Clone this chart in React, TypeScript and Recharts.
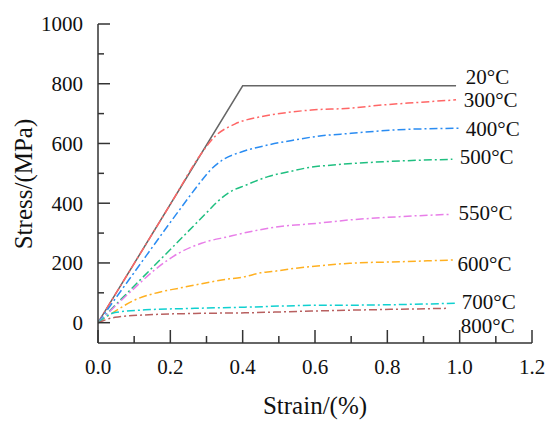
import React from 'react';
import { LineChart, Line, XAxis, YAxis, ReferenceDot, Label } from 'recharts';

// strain (%) / stress (MPa)
const strain20 = [0, 0.4, 0.99];
const stress20 = [0, 793, 793];

const strain300 = [0, 0.1, 0.2, 0.285, 0.323, 0.378, 0.452, 0.525, 0.59, 0.696, 0.788, 0.88, 0.99];
const stress300 = [0, 198, 396, 565, 623, 665, 690, 704, 712, 718, 729, 737, 746];

const strain400 = [0, 0.1, 0.2, 0.25, 0.28, 0.31, 0.342, 0.4, 0.47, 0.55, 0.6, 0.7, 0.83, 1.0];
const stress400 = [0, 168, 336, 418, 466, 510, 543, 573, 595, 613, 623, 634, 646, 651];

const strain500 = [0, 0.1, 0.2, 0.3, 0.33, 0.36, 0.41, 0.47, 0.53, 0.59, 0.65, 0.79, 0.98];
const stress500 = [0, 123, 245, 368, 405, 434, 461, 489, 506, 521, 528, 539, 547];

const strain550 = [0, 0.05, 0.1, 0.157, 0.222, 0.286, 0.36, 0.434, 0.517, 0.59, 0.696, 0.834, 0.977];
const stress550 = [0, 58, 115, 177, 232, 266, 288, 308, 324, 331, 344, 355, 363];

const strain600 = [0, 0.038, 0.102, 0.176, 0.222, 0.268, 0.342, 0.406, 0.45, 0.48, 0.544, 0.59, 0.696, 0.834, 0.986];
const stress600 = [0, 31, 76, 104, 115, 126, 143, 154, 167, 171, 182, 188, 199, 204, 210];

const strain700 = [0, 0.047, 0.13, 0.268, 0.406, 0.59, 0.742, 0.99];
const stress700 = [0, 34, 43, 48, 52, 58, 59, 65];

const strain800 = [0, 0.047, 0.13, 0.268, 0.406, 0.59, 0.742, 0.963];
const stress800 = [0, 18, 26, 31, 33, 39, 43, 48];

const tempLabels = ['20°C', '300°C', '400°C', '500°C', '550°C', '600°C', '700°C', '800°C'];
const labelStrain = [1.017, 1.011, 1.017, 1.0, 0.997, 0.994, 1.006, 1.003];
const labelStress = [824, 746, 649, 555, 368, 197, 71, -9];

const xTicks = [0, 0.1, 0.2, 0.3, 0.4, 0.5, 0.6, 0.7, 0.8, 0.9, 1.0, 1.1, 1.2];
const yTicks = [0, 100, 200, 300, 400, 500, 600, 700, 800, 900, 1000];

const FONT = '"Liberation Serif", "Times New Roman", serif';
const AXIS = '#333333';
const DASH = '8 3 2 3';

const toPoints = (xs: number[], ys: number[]) => xs.map((x, i) => ({ x, y: ys[i] }));

const series = [
  { name: '20', data: toPoints(strain20, stress20), color: '#666666', dash: undefined, type: 'linear' },
  { name: '300', data: toPoints(strain300, stress300), color: '#ff6666', dash: DASH, type: 'monotone' },
  { name: '400', data: toPoints(strain400, stress400), color: '#2a8cf2', dash: DASH, type: 'monotone' },
  { name: '500', data: toPoints(strain500, stress500), color: '#1fbf80', dash: DASH, type: 'monotone' },
  { name: '550', data: toPoints(strain550, stress550), color: '#e87ee8', dash: DASH, type: 'monotone' },
  { name: '600', data: toPoints(strain600, stress600), color: '#ffb020', dash: DASH, type: 'monotone' },
  { name: '700', data: toPoints(strain700, stress700), color: '#10d0d0', dash: DASH, type: 'monotone' },
  { name: '800', data: toPoints(strain800, stress800), color: '#b86060', dash: DASH, type: 'monotone' },
];

const XTick = (props: any) => {
  const { x, y, payload } = props;
  const v = payload.value;
  const major = Math.round(v * 10) % 2 === 0;
  return (
    <g>
      <line x1={x} x2={x} y1={y} y2={y - (major ? 13 : 7)} stroke={AXIS} strokeWidth={1.5} />
      {major && (
        <text x={x} y={y + 24} dy="0.35em" textAnchor="middle" fontFamily={FONT} fontSize={21} fill="#111">
          {v.toFixed(1)}
        </text>
      )}
    </g>
  );
};

const YTick = (props: any) => {
  const { x, y, payload } = props;
  const v = payload.value;
  const major = v % 200 === 0;
  return (
    <g>
      <line x1={x} x2={x + (major ? 12 : 6)} y1={y} y2={y} stroke={AXIS} strokeWidth={1.5} />
      {major && (
        <text x={x - 15} y={y} dy="0.35em" textAnchor="end" fontFamily={FONT} fontSize={21} fill="#111">
          {v}
        </text>
      )}
    </g>
  );
};

export default function App() {
  return (
    <div style={{ position: 'absolute', left: 0, top: 0, width: 550, height: 422, background: '#fff' }}>
      <LineChart width={550} height={422} margin={{ top: 24, right: 18, left: 0, bottom: 0 }}>
        <XAxis
          type="number"
          dataKey="x"
          domain={[0, 1.2]}
          ticks={xTicks}
          height={79}
          tickSize={0}
          tickMargin={0}
          tickLine={false}
          tick={<XTick />}
          interval={0}
          axisLine={{ stroke: AXIS, strokeWidth: 1.5 }}
          allowDataOverflow
        >
          <Label
            content={() => (
              <text x={315} y={414} textAnchor="middle" fontFamily={FONT} fontSize={25} fill="#111">
                Strain/(%)
              </text>
            )}
          />
        </XAxis>
        <YAxis
          type="number"
          domain={[-68, 1000]}
          ticks={yTicks}
          width={98}
          tickSize={0}
          tickMargin={0}
          tickLine={false}
          tick={<YTick />}
          interval={0}
          axisLine={{ stroke: AXIS, strokeWidth: 1.5 }}
          allowDataOverflow
        >
          <Label
            content={() => (
              <text
                x={23}
                y={184}
                dy="0.35em"
                transform="rotate(-90 23 184)"
                textAnchor="middle"
                fontFamily={FONT}
                fontSize={25}
                fill="#111"
              >
                Stress/(MPa)
              </text>
            )}
          />
        </YAxis>
        {series.map(s => (
          <Line
            key={s.name}
            data={s.data}
            dataKey="y"
            type={s.type as any}
            stroke={s.color}
            strokeWidth={1.5}
            strokeDasharray={s.dash}
            dot={false}
            activeDot={false}
            isAnimationActive={false}
          />
        ))}
        {tempLabels.map((t, i) => (
          <ReferenceDot
            key={t}
            x={labelStrain[i]}
            y={labelStress[i]}
            r={0}
            shape={(p: any) => (
              <text x={p.cx} y={p.cy} dy="0.35em" textAnchor="start" fontFamily={FONT} fontSize={21} fill="#111">
                {t}
              </text>
            )}
          />
        ))}
      </LineChart>
    </div>
  );
}
